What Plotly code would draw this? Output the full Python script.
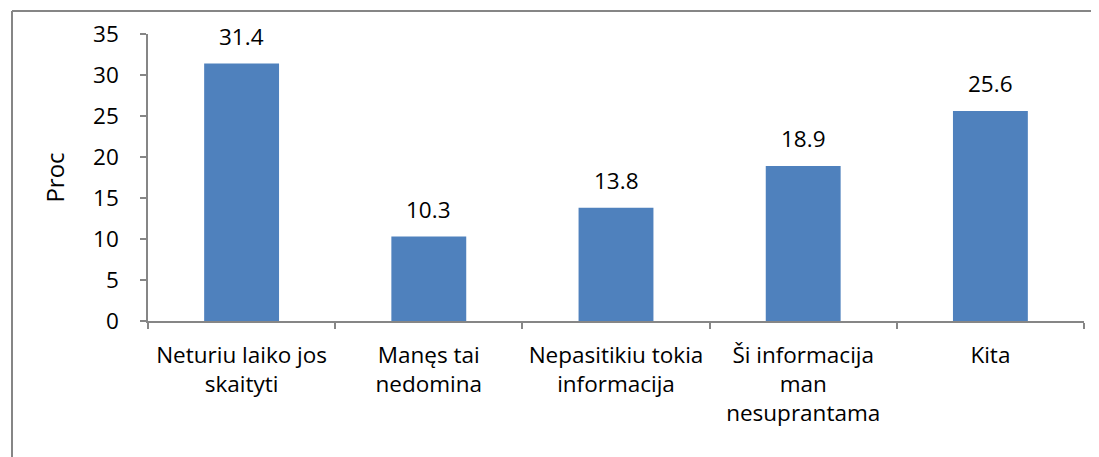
import plotly.graph_objects as go

categories = ["Neturiu laiko jos<br>skaityti", "Manęs tai<br>nedomina", "Nepasitikiu tokia<br>informacija",
              "Ši informacija<br>man<br>nesuprantama", "Kita"]
values = [31.4, 10.3, 13.8, 18.9, 25.6]
y_ticks = [0, 5, 10, 15, 20, 25, 30, 35]

FONT = "Open Sans"
BAR = "#4F81BD"
AXIS = "#868686"
FS = 22.5

fig = go.Figure()
fig.add_trace(go.Bar(x=categories, y=values, marker=dict(color=BAR, line=dict(width=0)),
                     width=0.4, hoverinfo="skip"))

for c, v in zip(categories, values):
    fig.add_annotation(x=c, y=v, text=f"{v:.1f}", showarrow=False, yanchor="bottom",
                       yshift=10, font=dict(family=FONT, size=FS, color="#000000"))

OFF = 8  # page body margin
W, H = 1099 - OFF, 457 - OFF
L, R, T, B = 148 - OFF, 15, 34 - OFF, 136
pw = W - L - R
ph = H - T - B
bx = (12 - OFF - L) / pw
by = (H - B - (11 - OFF)) / ph
border = dict(color=AXIS, width=2)
fig.add_shape(type="line", xref="paper", yref="paper", x0=bx, x1=(W + 20 - L) / pw, y0=by, y1=by,
              line=border, layer="above")
fig.add_shape(type="line", xref="paper", yref="paper", x0=bx, x1=bx, y0=by, y1=-(B + 20) / ph,
              line=border, layer="above")

fig.update_layout(
    width=W, height=H,
    margin=dict(l=L, r=R, t=T, b=B, autoexpand=False),
    paper_bgcolor="white", plot_bgcolor="white",
    font=dict(family=FONT, size=FS, color="#000000"),
    showlegend=False,
    xaxis=dict(type="category", showline=True, linecolor=AXIS, linewidth=1.5,
               ticks="outside", tickson="boundaries", ticklen=6, tickcolor=AXIS, tickwidth=1.5,
               ticklabelstandoff=13, showgrid=False, zeroline=False,
               tickfont=dict(family=FONT, size=FS)),
    yaxis=dict(range=[0, 35], tickvals=y_ticks, showline=True, linecolor=AXIS, linewidth=1.5,
               ticks="outside", ticklen=6, tickcolor=AXIS, tickwidth=1.5,
               ticklabelstandoff=17, showgrid=False, zeroline=False,
               tickfont=dict(family=FONT, size=FS),
               title=dict(text="Proc", font=dict(family=FONT, size=24), standoff=22)),
)

fig.write_html("out.html")
